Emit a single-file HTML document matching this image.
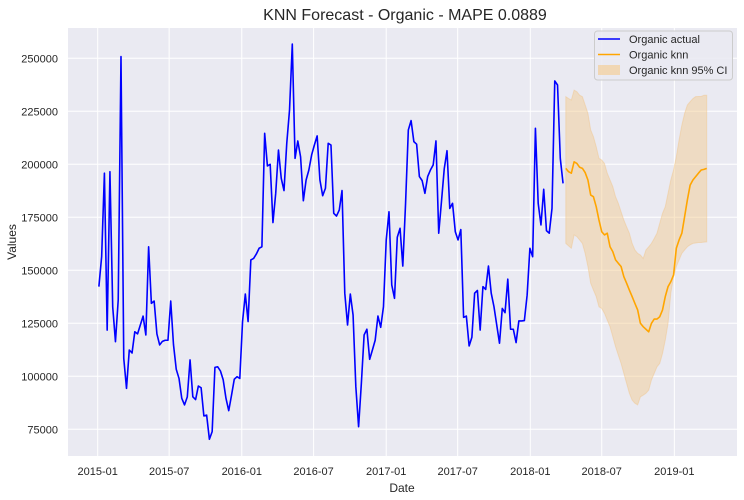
<!DOCTYPE html>
<html><head><meta charset="utf-8"><style>
body{margin:0;background:#fff;}
svg{display:block;font-family:"Liberation Sans",sans-serif;}
</style></head><body>
<svg id="chart" width="744" height="500">
<text x="405" y="20" text-anchor="middle" font-size="16" fill="#262626">KNN Forecast - Organic - MAPE 0.0889</text>
<text x="402" y="492" text-anchor="middle" font-size="12" fill="#262626">Date</text>
<text x="16" y="242" text-anchor="middle" font-size="12" fill="#262626" transform="rotate(-90 16 242)">Values</text>
</svg>
<script>
const actualStart = '2015-01-04';
const actualValues = [142.3,156.4,195.8,121.8,196.5,132.8,116.3,136,250.8,108.5,94.3,112.4,111,121,120,124.2,128.4,119.5,161.1,134.4,135.5,120,114.8,116.5,117,117,135.5,115,103.3,99,89.6,86.5,90.3,107.7,90.3,89,95.4,94.6,81.3,81.7,70.3,73.9,104.2,104.5,102.5,98.3,89.6,83.8,91,98.6,99.8,99,125.8,138.8,125.8,154.9,155.6,157.7,160.4,161.1,214.6,199.2,200,172.5,186.3,206.7,193.4,187.6,209.9,225.6,256.7,202.8,211,203.5,182.8,192.6,197.3,204.4,209.1,213.4,192.6,185.2,188.7,209.9,209.1,176.9,175.6,178.4,187.6,139.2,124.2,138.8,128.9,95.1,76.2,96.7,119.5,122.2,108,112.4,117,128.4,123.1,132.8,164.3,177.6,143.1,136.8,165.6,169.8,152,181.6,216.2,220.6,210.7,209.5,194.2,192.3,186.3,194.2,197.3,199.7,211,167.5,182.5,197.9,206.4,179.2,181.6,168.2,164.3,169.2,127.8,128.4,114.3,118.4,139.2,140.5,121.8,142.3,141,152,139.2,132.8,124.2,115.6,132,130,145.8,122.2,122.2,115.9,126.1,126.1,126.3,138.3,160.4,156.4,217,181.6,171.4,188.2,168.7,167.5,179.2,239.3,237.4,202.8,191];
const forecastStart = '2018-04-01';
const forecastValues = [198.1,196.5,195.8,201.2,200.4,198.6,198.1,196.1,192.6,185.5,184.7,180,173.7,168.2,166.7,167.5,161.1,158.8,154.9,153.3,151.8,147,143.9,140.7,137.6,134.4,131.3,125,123.4,122.2,121,125,127,127,128.1,131.3,137.6,142.3,144.6,147.8,160.4,164.3,167.5,175.3,183.2,190.2,192.6,194.2,195.8,197.3,197.6,198.1];
const upperCI = [231.9,231,230.3,235,234.2,232.6,231.9,228,224,216.2,213,208.3,202.8,202,200.4,195.8,192.6,189.5,184.7,181.6,177.6,173.7,170.5,167.5,162.7,159.6,158,157.2,155.6,159.6,161.1,162.7,165,167.5,172.2,176.9,180,186.3,192.6,197.3,203.6,211.5,218.5,224,228,229.5,231,231.9,232,232,232.6,232.6];
const lowerCI = [162.7,161.5,160.4,166.7,165.9,164.3,162.7,158,151.8,143.9,140.7,137.6,132.8,132,129.7,126.5,123.4,118.7,114,110,106.1,101.4,96.7,92,88.8,87.3,86.5,90.3,91.1,92,93.5,98.3,101.4,104.5,106.1,110.8,117.1,125,139.2,147,151.8,154.9,158,159.6,161.1,162,162.7,162.9,163.1,163.1,163.3,163.4];
const yTicks = [75000,100000,125000,150000,175000,200000,225000,250000];
const xTickLabels = ['2015-01','2015-07','2016-01','2016-07','2017-01','2017-07','2018-01','2018-07','2019-01'];

const NS='http://www.w3.org/2000/svg';
const svg=document.getElementById('chart');
const PL=68,PR=737,PT=28,PB=456;
const DAY=86400000, T0=Date.UTC(2015,0,1);
function xScale(t){return 97.7+(t-T0)/DAY*0.3947;}
function yScale(v){return 429.3-(v-75000)*53/25000;}
function mk(tag,attrs){const e=document.createElementNS(NS,tag);for(const k in attrs)e.setAttribute(k,attrs[k]);return e;}
function parseD(s){const p=s.split('-').map(Number);return Date.UTC(p[0],p[1]-1,p[2]||1);}

const bg=mk('rect',{x:PL,y:PT,width:PR-PL,height:PB-PT,fill:'#EAEAF2'});


svg.appendChild(bg);

yTicks.forEach(v=>{
  const y=yScale(v);
  const g=mk('line',{x1:PL,x2:PR,y1:y,y2:y,stroke:'#fff','stroke-width':1});
  
  
  svg.appendChild(g);
  const t=mk('text',{x:PL-10,y:y+4,'text-anchor':'end','font-size':11,fill:'#262626'});
  t.textContent=v;
  
  
  svg.appendChild(t);
});
xTickLabels.forEach(s=>{
  const x=xScale(parseD(s));
  const g=mk('line',{x1:x,x2:x,y1:PT,y2:PB,stroke:'#fff','stroke-width':1});
  
  
  svg.appendChild(g);
  const t=mk('text',{x:x,y:475,'text-anchor':'middle','font-size':11,fill:'#262626'});
  t.textContent=s;
  
  
  svg.appendChild(t);
});

const a0=parseD(actualStart), f0=parseD(forecastStart);
// CI band
let up=upperCI.map((v,i)=>xScale(f0+i*7*DAY).toFixed(2)+','+yScale(v*1000).toFixed(2));
let lo=lowerCI.map((v,i)=>xScale(f0+i*7*DAY).toFixed(2)+','+yScale(v*1000).toFixed(2)).reverse();
const band=mk('polygon',{points:up.concat(lo).join(' '),fill:'#F5C98A','fill-opacity':0.45,stroke:'#F0C080','stroke-opacity':0.4});


svg.appendChild(band);

const ap=actualValues.map((v,i)=>xScale(a0+i*7*DAY).toFixed(2)+','+yScale(v*1000).toFixed(2)).join(' ');
const al=mk('polyline',{points:ap,fill:'none',stroke:'#0000FF','stroke-width':1.6,'stroke-linejoin':'round'});


svg.appendChild(al);

const fp=forecastValues.map((v,i)=>xScale(f0+i*7*DAY).toFixed(2)+','+yScale(v*1000).toFixed(2)).join(' ');
const fl=mk('polyline',{points:fp,fill:'none',stroke:'#FFA500','stroke-width':1.6,'stroke-linejoin':'round'});


svg.appendChild(fl);

// legend
const lg=mk('g',{});


lg.appendChild(mk('rect',{x:594.5,y:31,width:138,height:49,rx:3,fill:'#EAEAF2','fill-opacity':0.85,stroke:'#cccccc'}));
const items=[['Organic actual','line','#0000FF'],['Organic knn','line','#FFA500'],['Organic knn 95% CI','patch','#F5C98A']];
items.forEach((it,i)=>{
  const y=39+i*15.5;
  const e=mk('g',{});
  
  
  if(it[1]==='line') e.appendChild(mk('line',{x1:598,x2:620,y1:y,y2:y,stroke:it[2],'stroke-width':1.6}));
  else e.appendChild(mk('rect',{x:598,y:y-5,width:22,height:10,fill:it[2],'fill-opacity':0.6}));
  const t=mk('text',{x:629,y:y+4,'font-size':11,fill:'#262626'});
  t.textContent=it[0];
  e.appendChild(t);
  lg.appendChild(e);
});
svg.appendChild(lg);
</script>
</body></html>
